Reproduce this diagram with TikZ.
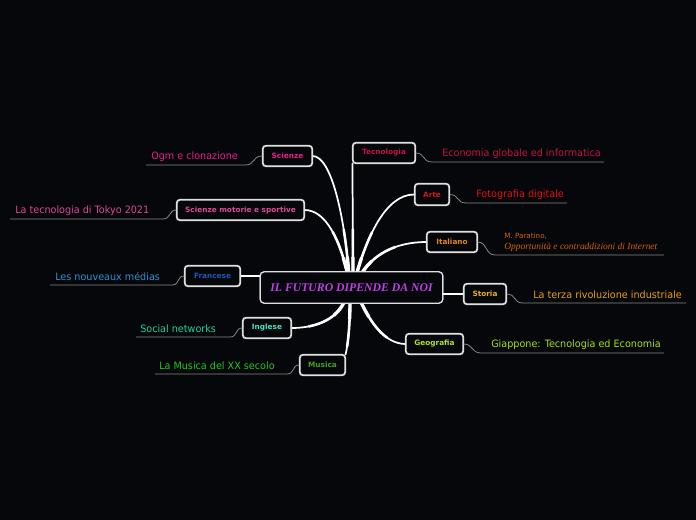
\documentclass[tikz,border=0pt]{standalone}
\usepackage{fontspec}
\setmainfont{DejaVu Sans}
\newfontfamily\labfont[FakeStretch=0.95]{DejaVu Sans}
\newfontfamily\topfont{DejaVu Sans}
\newfontfamily\ctrfont{Liberation Serif}
\definecolor{bg}{RGB}{5,7,10}
\definecolor{cpurple}{RGB}{190,64,230}
\definecolor{cpink}{RGB}{230,30,140}
\definecolor{cpink2}{RGB}{225,70,155}
\definecolor{cblue}{RGB}{35,85,180}
\definecolor{cblue2}{RGB}{45,145,210}
\definecolor{cteal}{RGB}{70,225,195}
\definecolor{cteal2}{RGB}{30,210,160}
\definecolor{cgreen}{RGB}{65,160,35}
\definecolor{cgreen2}{RGB}{35,200,35}
\definecolor{ccrim}{RGB}{195,20,65}
\definecolor{cred}{RGB}{215,20,30}
\definecolor{cred2}{RGB}{230,15,15}
\definecolor{corange}{RGB}{230,130,35}
\definecolor{corange2}{RGB}{215,95,15}
\definecolor{cyel}{RGB}{230,175,30}
\definecolor{cyel2}{RGB}{230,160,15}
\definecolor{cygreen}{RGB}{180,225,30}
\definecolor{cygreen2}{RGB}{165,225,15}
\definecolor{cline}{RGB}{135,135,135}
\tikzset{
  topic/.style={draw=white!88!black, fill=bg, rounded corners=2.5pt, line width=0.8pt,
    minimum height=15pt, inner sep=0pt, font=\topfont\bfseries\fontsize{5.5}{6}\selectfont},
  central/.style={draw=white!88!black, fill=bg, rounded corners=3pt, line width=0.9pt,
    minimum width=137pt, minimum height=23.5pt, inner sep=0pt,
    font=\ctrfont\bfseries\itshape\fontsize{8.8}{10}\selectfont, text=cpurple},
  lab/.style={anchor=west, inner sep=0pt, font=\labfont\fontsize{7.6}{9}\selectfont},
  sub/.style={draw=cline, line width=0.6pt}
}
\begin{document}
\begin{tikzpicture}[x=0.75pt,y=-0.75pt]
\fill[bg] (0,0) rectangle (696,520);
\useasboundingbox (0,0) rectangle (696,520);

\coordinate (h1) at (349,276);
\coordinate (h2) at (348,276);
\coordinate (h3) at (345,300);
\coordinate (h4) at (350,300);
\coordinate (h5) at (353,276);
\coordinate (h6) at (356,276);
\coordinate (h7) at (360,276);
\coordinate (h8) at (360,300);

\node[central] (c) at (351.5,287.5) {IL FUTURO DIPENDE DA NOI};

\node[topic, text=cpink, minimum width=36.75pt] (sci) at (287.5,156) {Scienze};
\node[topic, text=cpink2, minimum width=95.25pt] (smo) at (240.5,210) {Scienze motorie e sportive};
\node[topic, text=cblue, minimum width=41.25pt] (fra) at (212.5,276) {Francese};
\node[topic, text=cteal, minimum width=36pt] (ing) at (267,328) {Inglese};
\node[topic, text=cgreen, minimum width=33.75pt] (mus) at (322.5,365) {Musica};
\node[topic, text=ccrim, minimum width=46.5pt] (tec) at (384,153) {Tecnologia};
\node[topic, text=cred, minimum width=25.5pt, minimum height=15.75pt] (art) at (432,194.5) {Arte};
\node[topic, text=corange, minimum width=37.5pt] (ita) at (452,242) {Italiano};
\node[topic, text=cyel, minimum width=31.5pt] (sto) at (485,294) {Storia};
\node[topic, text=cygreen, minimum width=42.75pt] (geo) at (434.5,344) {Geografia};

% main connectors, tapered (thicker near the hub)
\foreach \w/\d in {2.5/14, 1.9/35, 1.3/2000} {
  \begin{scope}[draw=white, line width=\w pt, line cap=round, dash pattern=on \d pt off 3000pt]
  \draw (h1) .. controls (345,220) and (332,156) .. (sci.east);
  \draw (h2) .. controls (340,240) and (326,210) .. (smo.east);
  \draw (h3) .. controls (338,318) and (318,328) .. (ing.east);
  \draw (h4) .. controls (350,325) and (348,345) .. (mus.north east);
  \draw (h5) -- (tec.south west);
  \draw (h6) .. controls (366,240) and (385,194) .. (art.west);
  \draw (h7) .. controls (372,255) and (395,242) .. (ita.west);
  \draw (h8) .. controls (370,322) and (385,344) .. (geo.west);
  \end{scope}
}
\draw[white, line width=1.4pt] (fra.east) -- (c.west |- fra.east);
\draw[white, line width=1.4pt] (c.east |- sto.west) -- (sto.west);

% redraw central node on top of connectors
\node[central] at (351.5,287.5) {IL FUTURO DIPENDE DA NOI};
% redraw topic box borders on top
\foreach \n in {sci,smo,fra,ing,mus,tec,art,ita,sto,geo}{
  \draw[white!88!black, line width=0.8pt, rounded corners=2.5pt] (\n.south west) rectangle (\n.north east);
}

% sub-topic underlines
\coordinate (u1a) at (245,165); \coordinate (u1b) at (146,165);
\coordinate (u2a) at (163,219); \coordinate (u2b) at (10,219);
\coordinate (u3a) at (172,285); \coordinate (u3b) at (50,285);
\coordinate (u4a) at (230,337); \coordinate (u4b) at (136,337);
\coordinate (u5a) at (287,374); \coordinate (u5b) at (155,374);
\coordinate (u6a) at (432,162); \coordinate (u6b) at (604,162);
\coordinate (u7a) at (466,203); \coordinate (u7b) at (567,203);
\coordinate (u8a) at (495,255); \coordinate (u8b) at (664,255);
\coordinate (u9a) at (523,303); \coordinate (u9b) at (686,303);
\coordinate (u10a) at (481,353); \coordinate (u10b) at (664,353);

\draw[sub] (sci.west) .. controls +(-11,0) and +(11,0) .. (u1a) -- (u1b);
\draw[sub] (smo.west) .. controls +(-8,0) and +(8,0) .. (u2a) -- (u2b);
\draw[sub] (fra.west) .. controls +(-8,0) and +(8,0) .. (u3a) -- (u3b);
\draw[sub] (ing.west) .. controls +(-8,0) and +(8,0) .. (u4a) -- (u4b);
\draw[sub] (mus.west) .. controls +(-8,0) and +(8,0) .. (u5a) -- (u5b);
\draw[sub] (tec.east) .. controls +(10,0) and +(-10,0) .. (u6a) -- (u6b);
\draw[sub] (art.east) .. controls +(10,0) and +(-10,0) .. (u7a) -- (u7b);
\draw[sub] (ita.east) .. controls +(10,0) and +(-10,0) .. (u8a) -- (u8b);
\draw[sub] (sto.east) .. controls +(10,0) and +(-10,0) .. (u9a) -- (u9b);
\draw[sub] (geo.east) .. controls +(10,0) and +(-10,0) .. (u10a) -- (u10b);

% labels
\node[lab, text=cpink] (l1) at (151,156.5) {Ogm e clonazione};
\node[lab, text=cpink2] (l2) at (15,210.5) {La tecnologia di Tokyo 2021};
\node[lab, text=cblue2] (l3) at (55,276.5) {Les nouveaux médias};
\node[lab, text=cteal2] (l4) at (140,328.5) {Social networks};
\node[lab, text=cgreen2] (l5) at (159,365.5) {La Musica del XX secolo};
\node[lab, text=ccrim] (l6) at (442,153.5) {Economia globale ed informatica};
\node[lab, text=cred2] (l7) at (476,194.5) {Fotografia digitale};
\node[lab, text=corange2, font=\topfont\fontsize{5.4}{6}\selectfont] (l8a) at (504,236) {M. Paratino,};
\node[lab, text=corange2, font=\ctrfont\itshape\fontsize{7.1}{8}\selectfont] (l8b) at (504,247) {Opportunità e contraddizioni di Internet};
\node[lab, text=cyel2] (l9) at (533,294.5) {La terza rivoluzione industriale};
\node[lab, text=cygreen2] (l10) at (491,344.5) {Giappone: Tecnologia ed Economia};
\end{tikzpicture}
\end{document}
